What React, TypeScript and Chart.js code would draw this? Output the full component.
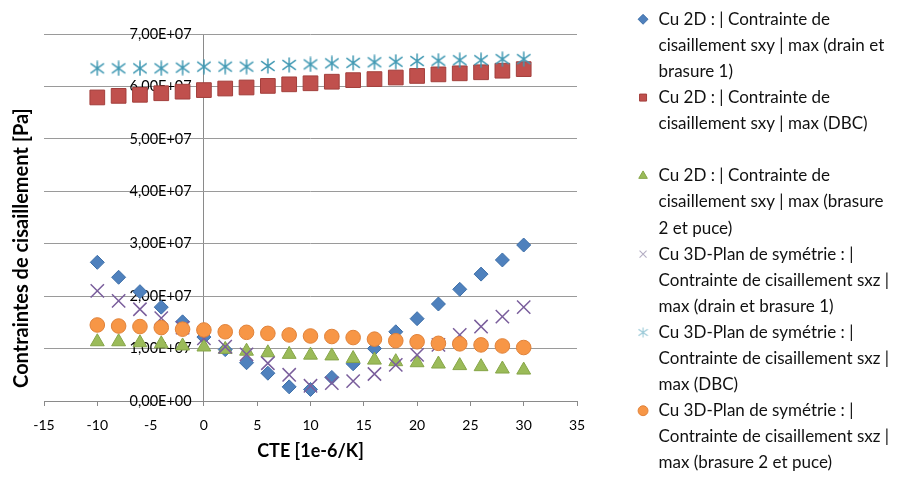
import React, { useEffect, useRef } from 'react';
import { Chart, registerables } from 'chart.js';

Chart.register(...registerables);

// ---- Data ----
const CTE = [-10, -8, -6, -4, -2, 0, 2, 4, 6, 8, 10, 12, 14, 16, 18, 20, 22, 24, 26, 28, 30];

const SXY_2D_DRAIN = [2.645e7, 2.36e7, 2.085e7, 1.79e7, 1.51e7, 1.22e7, 0.98e7, 0.73e7, 0.53e7, 0.27e7, 0.22e7, 0.45e7, 0.71e7, 1.0e7, 1.32e7, 1.57e7, 1.85e7, 2.13e7, 2.42e7, 2.69e7, 2.975e7];
const SXY_2D_DBC = [5.79e7, 5.82e7, 5.84e7, 5.87e7, 5.9e7, 5.93e7, 5.96e7, 5.98e7, 6.01e7, 6.04e7, 6.06e7, 6.09e7, 6.12e7, 6.14e7, 6.17e7, 6.2e7, 6.23e7, 6.25e7, 6.27e7, 6.3e7, 6.33e7];
const SXY_2D_PUCE = [1.13e7, 1.13e7, 1.11e7, 1.09e7, 1.05e7, 1.03e7, 0.985e7, 0.95e7, 0.92e7, 0.89e7, 0.875e7, 0.86e7, 0.81e7, 0.78e7, 0.75e7, 0.73e7, 0.705e7, 0.675e7, 0.655e7, 0.61e7, 0.59e7];
const SXZ_3D_DRAIN = [2.1e7, 1.91e7, 1.75e7, 1.58e7, 1.4e7, 1.195e7, 1.035e7, 0.89e7, 0.72e7, 0.5e7, 0.29e7, 0.34e7, 0.38e7, 0.515e7, 0.69e7, 0.88e7, 1.07e7, 1.26e7, 1.42e7, 1.61e7, 1.79e7];
const SXZ_3D_DBC = [6.345e7, 6.345e7, 6.345e7, 6.345e7, 6.358e7, 6.377e7, 6.377e7, 6.377e7, 6.39e7, 6.41e7, 6.42e7, 6.44e7, 6.45e7, 6.46e7, 6.47e7, 6.485e7, 6.49e7, 6.5e7, 6.5e7, 6.52e7, 6.52e7];
const SXZ_3D_PUCE = [1.45e7, 1.43e7, 1.42e7, 1.4e7, 1.37e7, 1.355e7, 1.32e7, 1.31e7, 1.29e7, 1.26e7, 1.24e7, 1.23e7, 1.21e7, 1.18e7, 1.15e7, 1.13e7, 1.1e7, 1.09e7, 1.07e7, 1.05e7, 1.02e7];

const SERIES_LABELS = [
  'Cu 2D : | Contrainte de cisaillement sxy | max (drain et brasure 1)',
  'Cu 2D : | Contrainte de cisaillement sxy | max (DBC)',
  'Cu 2D : | Contrainte de cisaillement sxy | max (brasure 2 et puce)',
  'Cu 3D-Plan de symétrie : | Contrainte de cisaillement sxz | max (drain et brasure 1)',
  'Cu 3D-Plan de symétrie : | Contrainte de cisaillement sxz | max (DBC)',
  'Cu 3D-Plan de symétrie : | Contrainte de cisaillement sxz | max (brasure 2 et puce)',
];

const LEGEND_LINES = [
  ['Cu 2D : | Contrainte de', 'cisaillement sxy | max (drain et', 'brasure 1)'],
  ['Cu 2D : | Contrainte de', 'cisaillement sxy | max (DBC)', ''],
  ['Cu 2D : | Contrainte de', 'cisaillement sxy | max (brasure', '2 et puce)'],
  ['Cu 3D-Plan de symétrie : |', 'Contrainte de cisaillement sxz |', 'max (drain et brasure 1)'],
  ['Cu 3D-Plan de symétrie : |', 'Contrainte de cisaillement sxz |', 'max (DBC)'],
  ['Cu 3D-Plan de symétrie : |', 'Contrainte de cisaillement sxz |', 'max (brasure 2 et puce)'],
];

const X_TITLE = 'CTE [1e-6/K]';
const Y_TITLE = 'Contraintes de cisaillement [Pa]';

const FONT = 'Lato, "Open Sans", sans-serif';

function sciLabel(v: number): string {
  if (v === 0) return '0,00E+00';
  const e = Math.floor(Math.log10(Math.abs(v)) + 1e-9);
  const m = v / Math.pow(10, e);
  return m.toFixed(2).replace('.', ',') + 'E' + (e < 0 ? '-' : '+') + String(Math.abs(e)).padStart(2, '0');
}

function makeAsterisk(size: number, lw: number, color: string): HTMLCanvasElement {
  const c = document.createElement('canvas');
  c.width = size;
  c.height = size;
  const g = c.getContext('2d')!;
  g.strokeStyle = color;
  g.lineWidth = lw;
  const m = size / 2;
  g.beginPath();
  g.moveTo(m, 0.5);
  g.lineTo(m, size - 0.5);
  g.moveTo(size * 0.08, size * 0.2);
  g.lineTo(size * 0.92, size * 0.8);
  g.moveTo(size * 0.92, size * 0.2);
  g.lineTo(size * 0.08, size * 0.8);
  g.stroke();
  return c;
}

// shifts the vertical title band so the title sits where the reference draws it
const yTitleShift = {
  id: 'yTitleShift',
  afterLayout(chart: any) {
    const s = chart.scales.yTitle;
    if (s) s.top += 61;
  },
};

export default function App() {
  const ref = useRef<HTMLCanvasElement | null>(null);

  useEffect(() => {
    if (!ref.current) return;
    const asterisk = makeAsterisk(16, 1.5, '#4199b3');
    const asteriskSmall = makeAsterisk(11, 1.1, '#9ccad8');

    const pts = (ys: number[]) => CTE.map((x, i) => ({ x, y: ys[i] }));

    const datasets: any[] = [
      { label: SERIES_LABELS[0], data: pts(SXY_2D_DRAIN), pointStyle: 'rectRot', pointRadius: 7, backgroundColor: '#4f81bd', borderColor: '#3e6fa8', borderWidth: 1, order: 6 },
      { label: SERIES_LABELS[1], data: pts(SXY_2D_DBC), pointStyle: 'rect', pointRadius: 10.4, backgroundColor: '#c0504d', borderColor: '#a33f3c', borderWidth: 1, order: 5 },
      { label: SERIES_LABELS[2], data: pts(SXY_2D_PUCE), pointStyle: 'triangle', pointRadius: 8, backgroundColor: '#9bbb59', borderColor: '#86a548', borderWidth: 1, order: 4 },
      { label: SERIES_LABELS[3], data: pts(SXZ_3D_DRAIN), pointStyle: 'crossRot', pointRadius: 9.4, backgroundColor: '#8064a2', borderColor: '#7a5e9c', borderWidth: 1.5, order: 3 },
      { label: SERIES_LABELS[4], data: pts(SXZ_3D_DBC), pointStyle: asterisk, pointRadius: 8, backgroundColor: '#4199b3', borderColor: '#4199b3', borderWidth: 1.5, order: 2 },
      { label: SERIES_LABELS[5], data: pts(SXZ_3D_PUCE), pointStyle: 'circle', pointRadius: 7.3, backgroundColor: '#f79646', borderColor: '#e0823a', borderWidth: 1, order: 1 },
    ];

    const gridGray = '#9a9a9a';
    const axisGray = '#8a8a8a';

    const chart = new Chart(ref.current, {
      type: 'scatter',
      data: { datasets },
      plugins: [yTitleShift],
      options: {
        animation: false,
        responsive: false,
        maintainAspectRatio: false,
        layout: { padding: { top: 10.8, right: 0, bottom: -6, left: 0 } },
        plugins: {
          tooltip: { enabled: false },
          legend: {
            display: true,
            position: 'right',
            align: 'start',
            maxWidth: 294.5,
            labels: {
              usePointStyle: true,
              boxWidth: 14,
              boxHeight: 7,
              padding: 0,
              color: '#111',
              font: { family: FONT, size: 17, lineHeight: 1.535 },
              sort: (a: any, b: any) => a.datasetIndex - b.datasetIndex,
              generateLabels: (c: any) => {
                const items = (Chart.defaults.plugins.legend.labels as any).generateLabels(c);
                return items.map((it: any) => ({
                  ...it,
                  text: LEGEND_LINES[it.datasetIndex],
                  pointStyle: it.datasetIndex === 4 ? asteriskSmall : it.pointStyle,
                  strokeStyle: it.datasetIndex === 3 ? '#b4aec4' : it.strokeStyle,
                  lineWidth: it.datasetIndex === 3 ? 1.1 : it.lineWidth,
                }));
              },
            },
          },
        },
        scales: {
          x: {
            type: 'linear',
            position: 'bottom',
            min: -15,
            max: 35,
            afterFit: (s: any) => { s.height = 83; },
            ticks: { stepSize: 5, padding: 11, color: '#000', font: { family: FONT, size: 14 } },
            grid: {
              drawOnChartArea: true,
              drawTicks: true,
              tickLength: 5,
              color: (c: any) => (c.tick && c.tick.value === 0 ? axisGray : 'rgba(0,0,0,0)'),
              tickColor: axisGray,
            },
            border: { display: true, color: axisGray },
            title: { display: true, text: X_TITLE, color: '#000', font: { family: FONT, size: 18, weight: 'bold' }, padding: { top: 0, bottom: 22.4 } },
          },
          xTop: {
            type: 'linear',
            axis: 'x',
            position: 'top',
            afterFit: (s: any) => { s.height = 23.2; },
            ticks: { display: false },
            grid: { display: false },
            border: { display: false },
          },
          y: {
            type: 'linear',
            axis: 'y',
            position: { x: -1.15 },
            min: 0,
            max: 7e7,
            ticks: { stepSize: 1e7, padding: 0, color: '#000', font: { family: FONT, size: 14.5 }, callback: (v: any) => sciLabel(Number(v)) },
            grid: { drawTicks: false, color: gridGray },
            border: { display: false },
          },
          yTitle: {
            type: 'linear',
            axis: 'y',
            position: 'left',
            afterFit: (s: any) => { s.width = 44; },
            ticks: { display: false },
            grid: { display: false },
            border: { display: false },
            title: { display: true, text: Y_TITLE, align: 'center', color: '#000', font: { family: FONT, size: 20, weight: 'bold' }, padding: { top: 10, bottom: 0 } },
          },
          ySpacer: {
            type: 'linear',
            axis: 'y',
            position: 'right',
            afterFit: (s: any) => {
              const lg = s.chart.legend;
              const lw = lg && lg.width ? lg.width : 294.5;
              s.width = Math.max(0, 899 - 577 - lw);
            },
            ticks: { display: false },
            grid: { display: false },
            border: { display: false },
          },
        },
      } as any,
    });

    return () => chart.destroy();
  }, []);

  return (
    <div style={{ position: 'absolute', left: 0, top: 0, width: 899, height: 478, background: '#fff' }}>
      <canvas ref={ref} width={899} height={478} style={{ display: 'block', width: 899, height: 478 }} />
    </div>
  );
}
